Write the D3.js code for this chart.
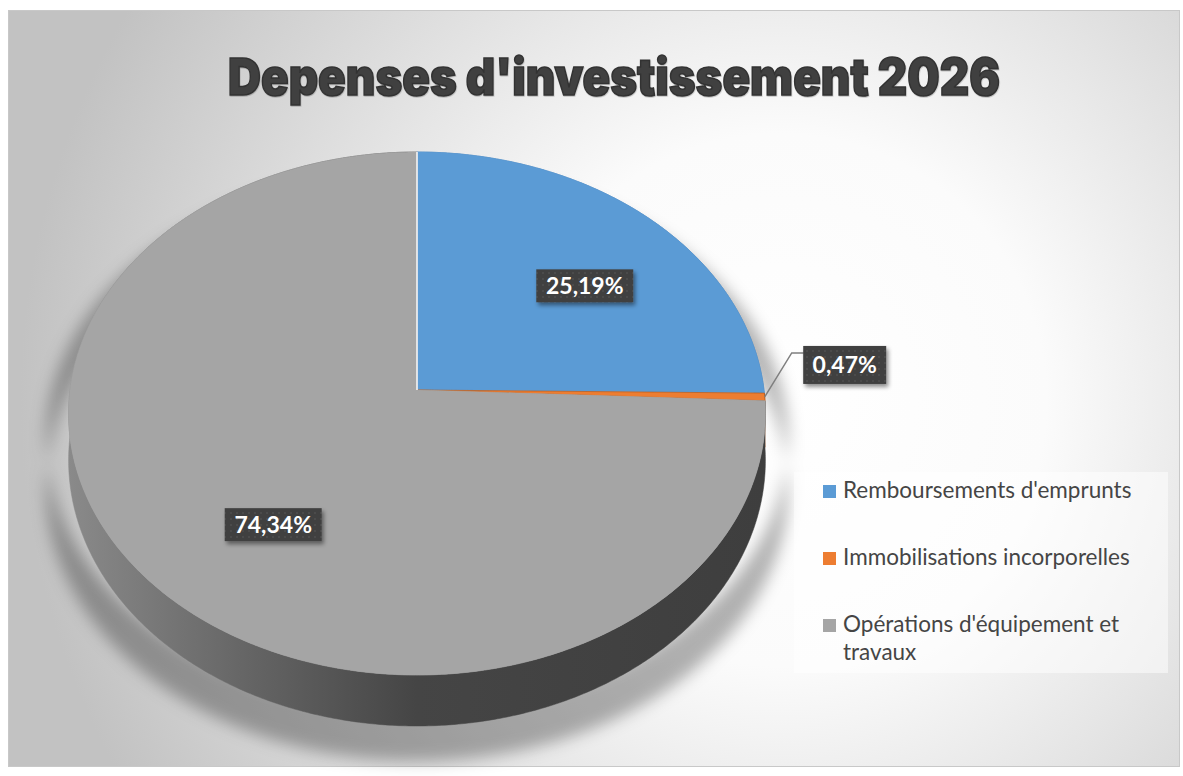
<!DOCTYPE html>
<html><head><meta charset="utf-8">
<script src="https://cdn.jsdelivr.net/npm/d3@7/dist/d3.min.js"></script>
<style>html,body{margin:0;padding:0;background:#fff;}svg{display:block;}</style>
</head><body>
<svg id="chart" width="1183" height="776"></svg>
<script>
const title = "Depenses d'investissement 2026";
const categories = ["Remboursements d'emprunts", "Immobilisations incorporelles", "Opérations d'équipement et travaux"];
const legendLines = [["Remboursements d'emprunts"], ["Immobilisations incorporelles"], ["Opérations d'équipement et", "travaux"]];
const values = [25.19, 0.47, 74.34];
const valueLabels = ["25,19%", "0,47%", "74,34%"];
const topColors = ["#5b9bd5", "#ed7d31", "#a5a5a5"];
const sideColors = ["#3f77aa", "#a9561c", "url(#sideGrad)"];

const svg = d3.select("#chart");
const defs = svg.append("defs");

const bg = defs.append("radialGradient").attr("id","bgGrad").attr("gradientUnits","userSpaceOnUse")
  .attr("cx",780).attr("cy",400).attr("r",760);
bg.append("stop").attr("offset","0").attr("stop-color","#ffffff");
bg.append("stop").attr("offset","0.35").attr("stop-color","#fbfbfb");
bg.append("stop").attr("offset","1").attr("stop-color","#c2c2c2");

const sg = defs.append("linearGradient").attr("id","sideGrad").attr("gradientUnits","userSpaceOnUse")
  .attr("x1",68).attr("x2",765).attr("y1",0).attr("y2",0);
sg.append("stop").attr("offset","0").attr("stop-color","#8a8a8a");
sg.append("stop").attr("offset","0.25").attr("stop-color","#666666");
sg.append("stop").attr("offset","0.5").attr("stop-color","#454545");
sg.append("stop").attr("offset","1").attr("stop-color","#3e3e3e");

const pat = defs.append("pattern").attr("id","dots").attr("patternUnits","userSpaceOnUse").attr("width",6).attr("height",6);
pat.append("rect").attr("width",6).attr("height",6).attr("fill","#404040");
pat.append("circle").attr("cx",3).attr("cy",3).attr("r",1).attr("fill","#4e4e4e");

const ds = defs.append("filter").attr("id","lblShadow").attr("x","-20%").attr("y","-20%").attr("width","150%").attr("height","160%");
ds.append("feDropShadow").attr("dx",2).attr("dy",3).attr("stdDeviation",2).attr("flood-color","#000").attr("flood-opacity",0.45);

const blur = defs.append("filter").attr("id","pieShadow").attr("x","-20%").attr("y","-20%").attr("width","140%").attr("height","140%");
blur.append("feGaussianBlur").attr("stdDeviation",8);

const ts = defs.append("filter").attr("id","titleShadow").attr("x","-5%").attr("y","-20%").attr("width","110%").attr("height","150%");
ts.append("feDropShadow").attr("dx",0.5).attr("dy",1).attr("stdDeviation",0.6).attr("flood-color","#000").attr("flood-opacity",0.2);

svg.append("rect").attr("x",8.5).attr("y",10.5).attr("width",1171).attr("height",756)
  .attr("fill","url(#bgGrad)").attr("stroke","#c8c8c8").attr("stroke-width",1);

svg.append("text").attr("x",228).attr("y",95).attr("textLength",772).attr("lengthAdjust","spacingAndGlyphs")
  .attr("font-family","Inter, Roboto, 'DejaVu Sans', sans-serif").attr("font-weight",900).attr("font-size",51)
  .attr("fill","#404040").attr("stroke","#333333").attr("stroke-width",1.6)
  .attr("filter","url(#titleShadow)").text(title);

const cx = 417, cy = 390, persp = -0.0899, depth = 46.4;
const xs = d3.scaleLinear().domain([-1, 1]).range([cx - 347, cx + 347]);
const ys = d3.scaleLinear().domain([-1, 1]).range([cy - 259.4, cy + 259.4]);
function proj(theta, r, bottom) {
  const u = r * Math.sin(theta), v = -r * Math.cos(theta);
  const w = 1 + persp * v;
  return [xs(u / w), ys(v / w) + (bottom ? depth / w : 0)];
}
function arcPts(a0, a1, r, bottom) {
  const n = Math.max(2, Math.ceil(Math.abs(a1 - a0) / (Math.PI / 360)));
  return d3.range(n + 1).map(i => proj(a0 + (a1 - a0) * i / n, r, bottom));
}
const line = d3.line();
const pie = d3.pie().sort(null).value(d => d);
const arcs = pie(values);

const sil = arcPts(0, 2 * Math.PI, 1, false).concat(arcPts(2 * Math.PI, 0, 1, true));
svg.append("g").attr("filter","url(#pieShadow)").append("path")
  .attr("d", line(sil) + "Z")
  .attr("transform", `translate(${cx},${cy + 25}) scale(1.065,1.03) translate(${-cx},${-cy})`)
  .attr("fill","#000").attr("opacity",0.3);

const gPie = svg.append("g");
arcs.forEach((a, i) => {
  const pts = arcPts(a.startAngle, a.endAngle, 1, false).concat(arcPts(a.endAngle, a.startAngle, 1, true));
  gPie.append("path").attr("d", line(pts) + "Z").attr("fill", sideColors[i]).attr("stroke", sideColors[i]).attr("stroke-width",0.5);
});
arcs.forEach((a, i) => {
  const pts = [proj(0, 0, false)].concat(arcPts(a.startAngle, a.endAngle, 1, false));
  gPie.append("path").attr("d", line(pts) + "Z").attr("fill", topColors[i])
    .attr("stroke", i === 1 ? "#b85a1a" : topColors[i]).attr("stroke-width", 0.7);
});
{
  const p0 = proj(arcs[0].startAngle, 0, false), p1 = proj(arcs[0].startAngle, 1, false);
  gPie.append("line").attr("x1",p0[0]).attr("y1",p0[1]).attr("x2",p1[0]).attr("y2",p1[1])
    .attr("stroke","#f4f4f4").attr("stroke-width",1.6);
}

const lblFont = "Lato, 'Open Sans', 'Noto Sans', sans-serif";
function drawLabel(i, x, y, w, h) {
  const g = svg.append("g");
  g.append("rect").attr("x", x - w / 2).attr("y", y - h / 2).attr("width", w).attr("height", h)
    .attr("fill","url(#dots)").attr("filter","url(#lblShadow)");
  g.append("text").attr("x", x).attr("y", y).attr("dy","0.36em").attr("text-anchor","middle")
    .attr("font-family", lblFont).attr("font-weight",700).attr("font-size",23).attr("fill","#ffffff")
    .text(valueLabels[i]);
}
[0, 2].forEach(i => {
  const a = arcs[i];
  const mid = (a.startAngle + a.endAngle) / 2;
  const p = proj(mid, 0.64, false);
  drawLabel(i, p[0] + 19.5 - 5 * Math.sin(mid), p[1] + 11.5 - 5 * Math.cos(mid), 97, 33);
});
{
  const a = arcs[1];
  const mid = (a.startAngle + a.endAngle) / 2;
  const p = proj(mid, 1, false);
  const elbow = [p[0] + 27, p[1] - 44];
  const bx = elbow[0] + 53, by = elbow[1] + 12;
  svg.append("path").attr("d", line([p, elbow, [bx - 41, elbow[1]]])).attr("fill","none")
    .attr("stroke","#7f7f7f").attr("stroke-width",1.5);
  drawLabel(1, bx, by, 83, 38);
}

const lg = svg.append("g");
lg.append("rect").attr("x",794).attr("y",472).attr("width",374).attr("height",201)
  .attr("fill","#ffffff").attr("opacity",0.5);
const rowY = d3.scalePoint().domain(d3.range(categories.length)).range([498, 632]);
legendLines.forEach((lines, i) => {
  const y = rowY(i);
  lg.append("rect").attr("x",823).attr("y",y - 13).attr("width",13).attr("height",13).attr("fill",topColors[i]);
  const t = lg.append("text").attr("x",843).attr("y",y).attr("font-family",lblFont)
    .attr("font-size",22.5).attr("fill","#454545");
  lines.forEach((l, j) => t.append("tspan").attr("x",843).attr("dy", j === 0 ? 0 : 28).text(l));
});
</script>
</body></html>
